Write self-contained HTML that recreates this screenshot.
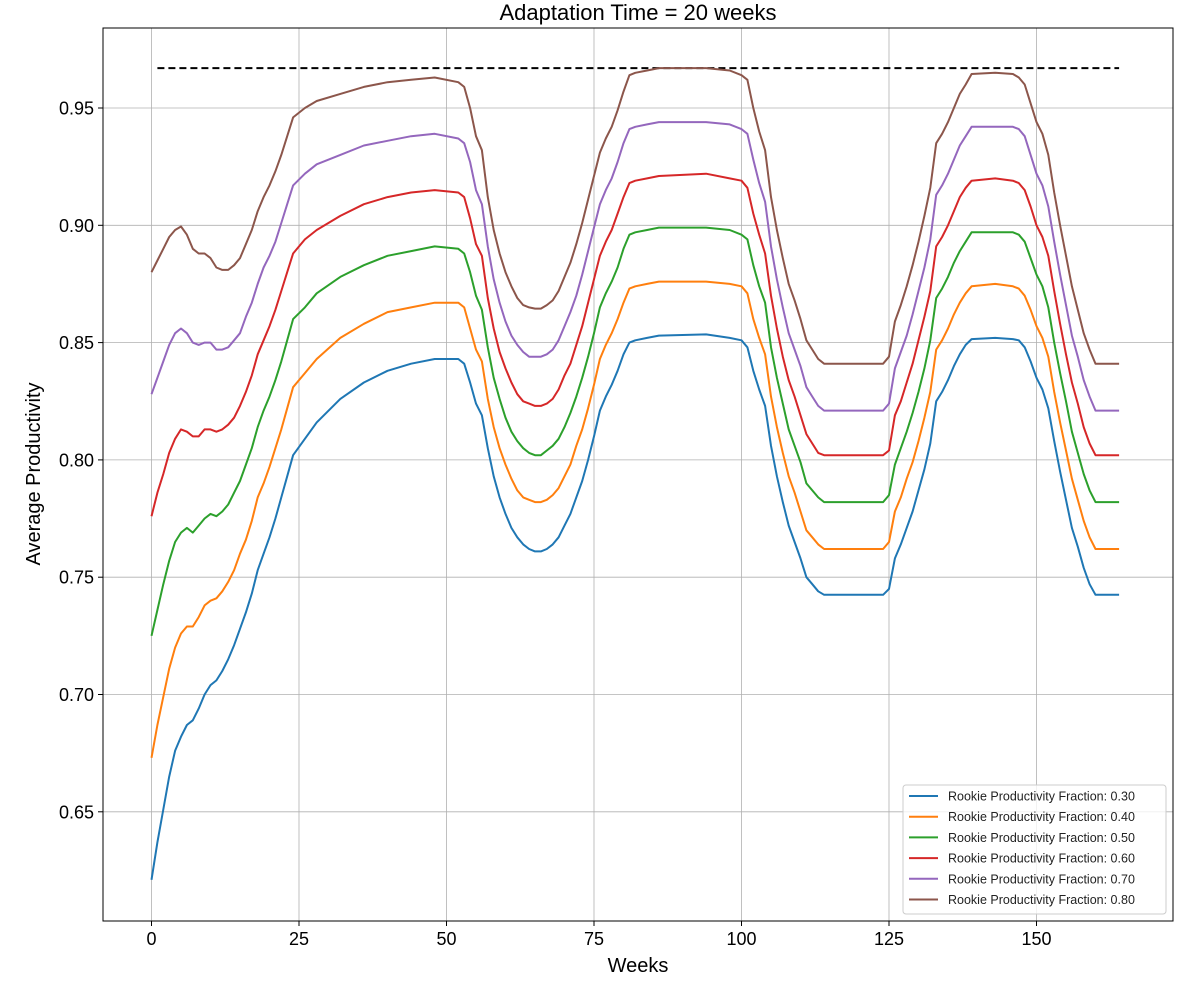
<!DOCTYPE html>
<html><head><meta charset="utf-8"><style>
body{margin:0;background:#fff;}
svg text{font-family:"Liberation Sans",Arial,sans-serif;}
</style></head><body>
<svg id="chart" width="1200" height="1000" xmlns="http://www.w3.org/2000/svg"></svg>
<script>
const weeks=[0,1,2,3,4,5,6,7,8,9,10,11,12,13,14,15,16,17,18,19,20,21,22,23,24,26,28,32,36,40,44,48,52,53,54,55,56,57,58,59,60,61,62,63,64,65,66,67,68,69,70,71,72,73,74,75,76,77,78,79,80,81,82,84,86,94,98,100,101,102,103,104,105,106,107,108,109,110,111,112,113,114,124,125,126,127,128,129,130,131,132,133,134,135,136,137,138,139,143,146,147,148,149,150,151,152,153,154,155,156,157,158,159,160,164];
const s030=[.621,.637,.651,.665,.676,.682,.687,.689,.694,.700,.704,.706,.710,.715,.721,.728,.735,.743,.753,.760,.767,.775,.784,.793,.802,
.809,.816,.826,.833,.838,.841,.843,.843,
.841,.833,.824,.819,.805,.793,.784,.777,.771,.767,.764,.762,.761,.761,.762,.764,.767,.772,.777,.784,.791,.800,.810,.821,.827,.832,.838,.845,.850,.851,
.852,.853,.8535,.852,.851,
.848,.838,.830,.823,.806,.793,.782,.772,.765,.758,.750,.747,.744,.7425,
.7425,.745,.758,.764,.771,.778,.787,.796,.807,.825,.829,.834,.840,.845,.849,.8515,
.852,.8515,
.851,.848,.842,.835,.830,.822,.808,.795,.783,.771,.763,.754,.747,.7425,.7425];
const s040=[.673,.687,.699,.711,.720,.726,.729,.729,.733,.738,.740,.741,.744,.748,.753,.760,.766,.774,.784,.790,.797,.805,.813,.822,.831,
.837,.843,.852,.858,.863,.865,.867,.867,
.865,.856,.847,.842,.826,.814,.805,.798,.792,.787,.784,.783,.782,.782,.783,.785,.788,.793,.798,.806,.813,.822,.832,.843,.849,.854,.860,.867,.873,.874,
.875,.876,.876,.875,.874,
.871,.860,.852,.845,.827,.814,.803,.793,.786,.778,.770,.767,.764,.762,
.762,.765,.778,.784,.792,.799,.808,.818,.829,.847,.851,.856,.862,.867,.871,.874,
.875,.874,
.873,.870,.864,.857,.852,.844,.829,.816,.804,.792,.783,.774,.767,.762,.762];
const s050=[.725,.736,.747,.757,.765,.769,.771,.769,.772,.775,.777,.776,.778,.781,.786,.791,.798,.805,.814,.821,.827,.834,.842,.851,.860,
.865,.871,.878,.883,.887,.889,.891,.890,
.888,.880,.870,.864,.848,.835,.826,.818,.812,.808,.805,.803,.802,.802,.804,.806,.809,.814,.820,.827,.835,.844,.854,.865,.871,.876,.882,.890,.896,.897,
.898,.899,.899,.898,.896,
.894,.883,.874,.867,.848,.835,.824,.813,.806,.799,.790,.787,.784,.782,
.782,.785,.798,.805,.812,.820,.829,.839,.851,.869,.873,.878,.884,.889,.893,.897,
.897,.897,
.896,.893,.886,.879,.874,.865,.850,.837,.825,.812,.803,.794,.787,.782,.782];
const s060=[.776,.786,.794,.803,.809,.813,.812,.810,.810,.813,.813,.812,.813,.815,.818,.823,.829,.836,.845,.851,.857,.864,.872,.880,.888,
.894,.898,.904,.909,.912,.914,.915,.914,
.912,.903,.892,.887,.869,.856,.846,.839,.833,.828,.825,.824,.823,.823,.824,.826,.830,.836,.841,.849,.857,.867,.877,.887,.893,.898,.905,.912,.918,.919,
.920,.921,.922,.920,.919,
.916,.905,.896,.888,.870,.856,.844,.834,.827,.819,.811,.807,.803,.802,
.802,.804,.819,.825,.833,.841,.851,.861,.872,.891,.895,.900,.906,.912,.916,.919,
.920,.919,
.918,.915,.908,.900,.895,.887,.872,.858,.845,.833,.824,.814,.807,.802,.802];
const s070=[.828,.835,.842,.849,.854,.856,.854,.850,.849,.850,.850,.847,.847,.848,.851,.854,.861,.867,.875,.882,.887,.893,.901,.909,.917,
.922,.926,.930,.934,.936,.938,.939,.937,
.935,.927,.915,.909,.891,.877,.867,.859,.853,.849,.846,.844,.844,.844,.845,.847,.851,.857,.863,.870,.879,.889,.899,.909,.915,.920,.927,.935,.941,.942,
.943,.944,.944,.943,.941,
.939,.928,.918,.910,.891,.877,.865,.854,.847,.840,.831,.827,.823,.821,
.821,.824,.839,.846,.853,.862,.872,.882,.894,.913,.917,.922,.928,.934,.938,.942,
.942,.942,
.941,.938,.930,.922,.917,.908,.893,.879,.866,.853,.844,.834,.827,.821,.821];
const s080=[.880,.885,.890,.895,.898,.8995,.896,.890,.888,.888,.886,.882,.881,.881,.883,.886,.892,.898,.906,.912,.917,.923,.930,.938,.946,
.950,.953,.956,.959,.961,.962,.963,.961,
.959,.950,.938,.932,.912,.898,.888,.880,.874,.869,.866,.865,.8645,.8645,.866,.868,.872,.878,.884,.892,.901,.911,.921,.931,.937,.942,.949,.957,.964,.965,
.966,.967,.967,.966,.964,
.962,.950,.940,.932,.912,.898,.886,.875,.868,.860,.851,.847,.843,.841,
.841,.844,.859,.866,.874,.883,.893,.904,.916,.935,.939,.944,.950,.956,.960,.9645,
.965,.9645,
.963,.960,.952,.944,.939,.930,.914,.900,.887,.874,.864,.854,.847,.841,.841];
const seriesLabels=["0.30","0.40","0.50","0.60","0.70","0.80"];
const xTicks=[0,25,50,75,100,125,150];
const yTicks=[0.65,0.70,0.75,0.80,0.85,0.90,0.95];
const targetLevel=0.967;
const targetStart=1, targetEnd=164;

const NS="http://www.w3.org/2000/svg";
const svg=document.getElementById('chart');
const L=103,R=1173,T=28,B=921;
function X(w){return 151.5+w*5.9;}
function Y(v){return 108+(0.95-v)/0.05*117.3;}
function mk(tag,attrs,parent){const e=document.createElementNS(NS,tag);for(const k in attrs)e.setAttribute(k,attrs[k]);(parent||svg).appendChild(e);return e;}

const grid=mk('g',{});


xTicks.forEach(t=>{
  const l=mk('line',{x1:X(t),x2:X(t),y1:T,y2:B,stroke:'#b0b0b0','stroke-width':0.8},grid);
  
  
  const tk=mk('line',{x1:X(t),x2:X(t),y1:B,y2:B+5,stroke:'#000','stroke-width':1});
  
  
  const tx=mk('text',{x:X(t),y:B+24,'font-size':18,'text-anchor':'middle',fill:'#000'});
  tx.textContent=t;
  
  
});
yTicks.forEach(t=>{
  const l=mk('line',{x1:L,x2:R,y1:Y(t),y2:Y(t),stroke:'#b0b0b0','stroke-width':0.8},grid);
  
  
  const tk=mk('line',{x1:L-5,x2:L,y1:Y(t),y2:Y(t),stroke:'#000','stroke-width':1});
  
  
  const tx=mk('text',{x:L-9,y:Y(t)+6.5,'font-size':18,'text-anchor':'end',fill:'#000'});
  tx.textContent=t.toFixed(2);
  
  
});

const dash=mk('line',{x1:X(targetStart),x2:X(targetEnd),y1:Y(targetLevel),y2:Y(targetLevel),stroke:'#000','stroke-width':2,'stroke-dasharray':'7,4'});



const colors=['#1f77b4','#ff7f0e','#2ca02c','#d62728','#9467bd','#8c564b'];
const allSeries=[s030,s040,s050,s060,s070,s080];
allSeries.forEach((s,i)=>{
  const d=s.map((v,j)=>(j?'L':'M')+X(weeks[j]).toFixed(1)+','+Y(v).toFixed(1)).join(' ');
  const p=mk('path',{d:d,fill:'none',stroke:colors[i],'stroke-width':2,'stroke-linejoin':'round'});
  
  
});

const frame=mk('rect',{x:L,y:T,width:R-L,height:B-T,fill:'none',stroke:'#000','stroke-width':1});



const title=mk('text',{x:638,y:20,'font-size':22,'text-anchor':'middle',fill:'#000'});
title.textContent='Adaptation Time = 20 weeks';


const xl=mk('text',{x:638,y:972,'font-size':20,'text-anchor':'middle',fill:'#000'});
xl.textContent='Weeks';


const yl=mk('text',{x:40,y:474,'font-size':20,'text-anchor':'middle',fill:'#000',transform:'rotate(-90 40 474)'});
yl.textContent='Average Productivity';



const lg=mk('g',{});


mk('rect',{x:903,y:785,width:263,height:129,rx:3,fill:'#fff','fill-opacity':0.8,stroke:'#ccc','stroke-width':1},lg);
seriesLabels.forEach((lab,i)=>{
  const y=796+i*20.7;
  const e=mk('g',{},lg);
  
  
  mk('line',{x1:909,x2:938,y1:y,y2:y,stroke:colors[i],'stroke-width':2},e);
  const t=mk('text',{x:948,y:y+4.5,'font-size':12.5,fill:'#222'},e);
  t.textContent='Rookie Productivity Fraction: '+lab;
});
</script>
</body></html>
